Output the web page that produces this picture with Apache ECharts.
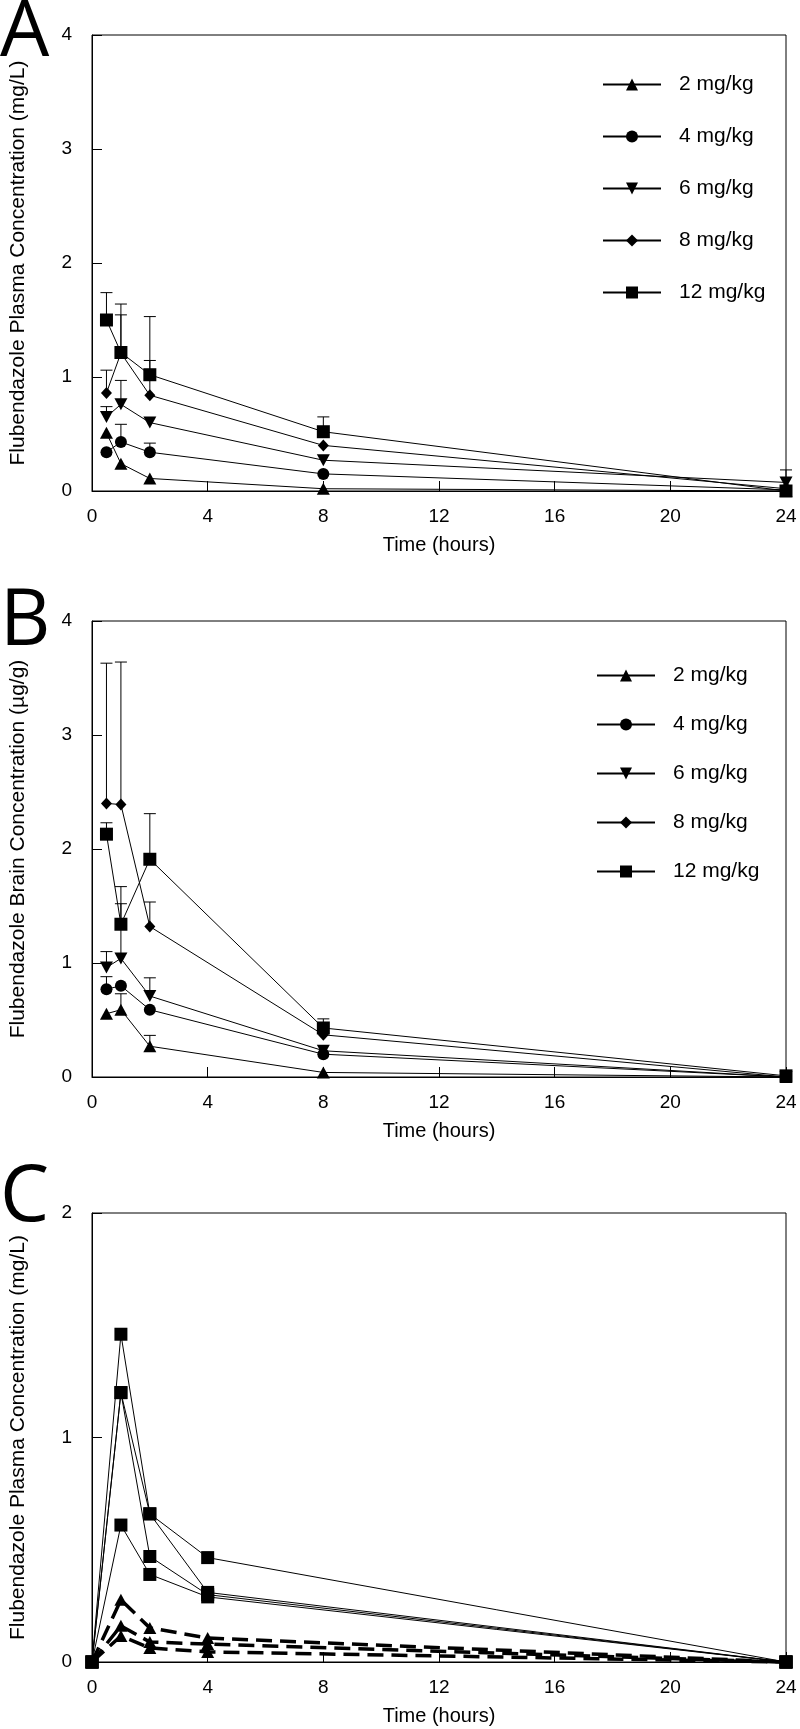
<!DOCTYPE html>
<html>
<head>
<meta charset="utf-8">
<script src="https://cdn.jsdelivr.net/npm/echarts@6/dist/echarts.min.js"></script>
<style>
html,body{margin:0;padding:0;background:#fff;}
#chart{width:800px;height:1729px;}
</style>
</head>
<body>
<div id="chart"></div>
<script>
// ---------- DATA ----------
const doseNames = ['2 mg/kg', '4 mg/kg', '6 mg/kg', '8 mg/kg', '12 mg/kg'];
const timesAB = [0.5, 1, 2, 8, 24];
const xTicks = [0, 4, 8, 12, 16, 20, 24];

// Panel A: plasma concentration (mg/L), mean and upper error (SD)
const plasma2 = [0.51, 0.24, 0.11, 0.02, 0.0];
const plasma2Sd = [null, null, null, null, null];
const plasma4 = [0.34, 0.43, 0.34, 0.15, 0.01];
const plasma4Sd = [null, 0.155, 0.08, null, null];
const plasma6 = [0.65, 0.76, 0.60, 0.27, 0.075];
const plasma6Sd = [0.09, 0.21, null, null, 0.11];
const plasma8 = [0.86, 1.21, 0.84, 0.40, 0.02];
const plasma8Sd = [0.20, 0.335, 0.305, null, null];
const plasma12 = [1.50, 1.215, 1.02, 0.52, 0.0];
const plasma12Sd = [0.24, 0.425, 0.51, 0.13, null];

// Panel B: brain concentration (µg/g)
const brain2 = [0.555, 0.59, 0.27, 0.04, 0.0];
const brain2Sd = [null, 0.14, 0.095, null, null];
const brain4 = [0.77, 0.80, 0.59, 0.20, 0.0];
const brain4Sd = [0.11, null, null, null, null];
const brain6 = [0.96, 1.04, 0.71, 0.23, 0.0];
const brain6Sd = [0.14, 0.48, 0.16, null, null];
const brain8 = [2.40, 2.39, 1.32, 0.37, 0.0];
const brain8Sd = [1.23, 1.25, 0.215, null, null];
const brain12 = [2.13, 1.34, 1.91, 0.43, 0.01];
const brain12Sd = [0.10, 0.33, 0.40, 0.08, null];

// Panel C: individual plasma profiles (mg/L)
const timesC = [0, 1, 2, 4, 24];
const indivSquare1 = [0, 1.46, 0.66, 0.465, 0];
const indivSquare2 = [0, 1.20, 0.66, 0.31, 0];
const indivSquare3 = [0, 1.20, 0.47, 0.30, 0];
const indivSquare4 = [0, 0.61, 0.39, 0.29, 0];
const indivTriangle1 = [0, 0.277, 0.152, 0.107, 0];
const indivTriangle2 = [0, 0.161, 0.089, 0.080, 0];
const indivTriangle3 = [0, 0.116, 0.0625, 0.045, 0];

// ---------- CHART ----------
const FONT = '"Liberation Sans", Arial, sans-serif';
const downTri = 'path://M0,0L2,0L1,1.8Z';
const symbols = ['triangle', 'circle', downTri, 'diamond', 'rect'];
const symSizes = [[13, 12], 12, [13, 12], [11, 12], 13];

function pairs(xs, ys) { return xs.map((x, i) => [x, ys[i]]); }
function errData(xs, ys, sds) {
  const out = [];
  xs.forEach((x, i) => { if (sds[i] != null) out.push([x, ys[i], ys[i] + sds[i]]); });
  return out;
}
function errSeries(idx, xs, ys, sds) {
  return {
    type: 'custom', xAxisIndex: idx, yAxisIndex: idx, z: 1, silent: true,
    data: errData(xs, ys, sds),
    encode: { x: 0, y: [1, 2] },
    renderItem: function (params, api) {
      const p0 = api.coord([api.value(0), api.value(1)]);
      const p1 = api.coord([api.value(0), api.value(2)]);
      const st = { stroke: '#000', lineWidth: 1 };
      return { type: 'group', children: [
        { type: 'line', shape: { x1: p0[0], y1: p0[1], x2: p1[0], y2: p1[1] }, style: st },
        { type: 'line', shape: { x1: p1[0] - 6, y1: p1[1], x2: p1[0] + 6, y2: p1[1] }, style: st }
      ]};
    }
  };
}
function meanSeries(idx, k, xs, ys) {
  return {
    type: 'line', name: doseNames[k], xAxisIndex: idx, yAxisIndex: idx, z: 3,
    data: pairs(xs, ys), symbol: symbols[k], symbolSize: symSizes[k],
    clip: false, animation: false,
    lineStyle: { color: '#000', width: 1 },
    itemStyle: { color: '#000', borderWidth: 0 }
  };
}
function indivSeries(ys, dashed) {
  return {
    type: 'line', xAxisIndex: 2, yAxisIndex: 2, z: 3,
    data: pairs(timesC, ys), symbol: dashed ? 'triangle' : 'rect',
    symbolSize: dashed ? [13, 12] : 13, clip: false,
    lineStyle: dashed ? { color: '#000', width: 3.5, type: [16, 8] } : { color: '#000', width: 1 },
    itemStyle: { color: '#000', borderWidth: 0 }
  };
}

const grids = [
  { left: 85, right: 14, top: 35, height: 456 },
  { left: 85, right: 14, top: 621, height: 456 },
  { left: 85, right: 14, top: 1213, height: 449 }
].map(g => Object.assign(g, { show: true, borderColor: '#000', borderWidth: 1, containLabel: false }));

const yNames = [
  'Flubendazole Plasma Concentration (mg/L)',
  'Flubendazole Brain Concentration (µg/g)',
  'Flubendazole Plasma Concentration (mg/L)'
];
const yMax = [4, 4, 2];

const xAxes = [0, 1, 2].map(i => ({
  type: 'value', gridIndex: i, min: xTicks[0], max: xTicks[xTicks.length - 1], interval: 4,
  name: 'Time (hours)', nameLocation: 'middle', nameGap: 44,
  nameTextStyle: { fontFamily: FONT, fontSize: 20, color: '#000' },
  axisLine: { show: true, lineStyle: { color: '#000', width: 1 } },
  axisTick: { show: true, inside: true, length: 10, lineStyle: { color: '#000' } },
  axisLabel: { fontFamily: FONT, fontSize: 19, color: '#000', margin: 16 },
  splitLine: { show: false }
}));
const yAxes = [0, 1, 2].map(i => ({
  type: 'value', gridIndex: i, min: 0, max: yMax[i], interval: 1,
  name: yNames[i], nameLocation: 'middle', nameGap: 63,
  nameTextStyle: { fontFamily: FONT, fontSize: 21, color: '#000' },
  axisLine: { show: true, lineStyle: { color: '#000', width: 1 } },
  axisTick: { show: true, inside: true, length: 10, lineStyle: { color: '#000' } },
  axisLabel: { fontFamily: FONT, fontSize: 19, color: '#000', margin: 20 },
  splitLine: { show: false }
}));

const series = [];
const A = [plasma2, plasma4, plasma6, plasma8, plasma12];
const ASd = [plasma2Sd, plasma4Sd, plasma6Sd, plasma8Sd, plasma12Sd];
const B = [brain2, brain4, brain6, brain8, brain12];
const BSd = [brain2Sd, brain4Sd, brain6Sd, brain8Sd, brain12Sd];
for (let k = 0; k < 5; k++) {
  series.push(errSeries(0, timesAB, A[k], ASd[k]));
  series.push(meanSeries(0, k, timesAB, A[k]));
  series.push(errSeries(1, timesAB, B[k], BSd[k]));
  series.push(meanSeries(1, k, timesAB, B[k]));
}
[indivSquare1, indivSquare2, indivSquare3, indivSquare4].forEach(s => series.push(indivSeries(s, false)));
[indivTriangle1, indivTriangle2, indivTriangle3].forEach(s => series.push(indivSeries(s, true)));

const legendBase = {
  orient: 'vertical', data: doseNames, itemWidth: 58, itemHeight: 15,
  selectedMode: false,
  textStyle: { fontFamily: FONT, fontSize: 21, color: '#000', padding: [0, 0, 0, 13] }
};

const option = {
  animation: false,
  backgroundColor: '#fff',
  grid: grids,
  xAxis: xAxes,
  yAxis: yAxes,
  legend: [
    Object.assign({}, legendBase, { left: 597, top: 69, itemGap: 31 }),
    Object.assign({}, legendBase, { left: 591, top: 660, itemGap: 28 })
  ],
  graphic: [
    { type: 'text', left: 0, top: -5, style: { text: 'A', font: '78px "Open Sans", sans-serif', fill: '#000' } },
    { type: 'text', left: 0, top: 584, style: { text: 'B', font: '78px "Open Sans", sans-serif', fill: '#000' } },
    { type: 'text', left: 0, top: 1160, style: { text: 'C', font: '78px "Open Sans", sans-serif', fill: '#000' } }
  ],
  series: series
};

const chart = echarts.init(document.getElementById('chart'), null, { renderer: 'canvas' });
chart.setOption(option);
</script>
</body>
</html>
